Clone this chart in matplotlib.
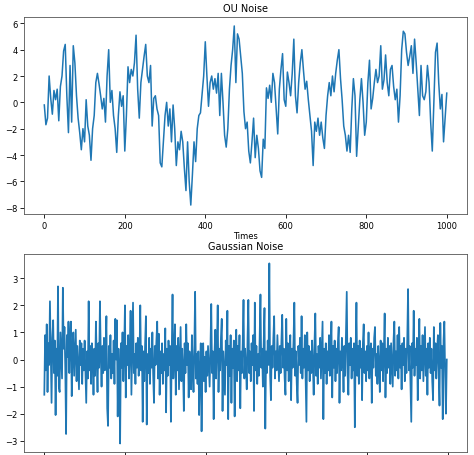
import numpy as np
import matplotlib
matplotlib.use('Agg')
import matplotlib.pyplot as plt

# ── OU noise, read every 4 steps ──
ou_step = 4
ou_values = [
    -0.2, -1.7, -1.2, 2.0, 0.3, -0.9, 0.9, 0.2, 1.0, -1.4, 1.2, 2.0, 3.9, 4.4, 0.5, -2.3,
    2.8, -1.5, 4.3, 3.0, 0.5, -1.2, -2.3, -3.6, -2.0, -3.0, 0.2, -1.8, -2.5, -4.4, -2.0, -1.0,
    1.5, 2.2, 1.4, 0.5, -0.5, 0.3, -1.5, 2.0, 4.0, 0.0, 0.9, -1.0, -2.0, -3.8, -1.0, 0.8,
    -0.3, 0.5, -3.7, -1.0, 2.7, 1.5, 2.5, 2.0, 3.0, 5.1, 1.0, -1.2, 1.5, 2.5, 3.5, 4.4,
    2.0, 1.5, 2.8, -1.8, 0.3, 0.5, -0.5, -1.0, -4.6, -4.9, -3.0, -1.0, 0.0, -1.8, -0.5, -3.0,
    -0.2, -2.0, -4.8, -3.0, -3.6, -2.2, -3.0, -5.0, -6.7, -3.0, -6.0, -7.8, -5.5, -3.0, -4.5, -2.0,
    -1.0, -0.8, 0.6, 2.0, 4.6, 2.0, -0.3, 1.5, 2.0, 1.0, 1.8, 0.7, 2.2, -1.0, 2.2, 0.0,
    -2.5, -3.4, -2.0, 1.0, 2.8, 4.0, 5.8, 1.5, 5.2, 4.8, 3.5, 2.2, -0.7, -2.0, -1.5, -3.7,
    -4.6, -3.0, -1.2, -4.2, -2.5, -3.5, -5.2, -5.7, -2.8, -3.5, 1.1, 0.3, 1.3, 0.0, 2.2, 1.5,
    -0.5, -2.4, 1.0, 2.5, 3.7, 0.2, -0.3, 2.3, 1.5, 0.5, 2.2, 4.8, 0.5, -0.8, 1.5, 3.0,
    4.0, 2.4, 1.0, 1.6, 0.2, -1.0, -2.2, -4.8, -1.5, -2.2, -1.2, -2.5, -1.5, -2.7, -3.5, -1.0,
    0.5, 1.5, 0.5, 2.0, 0.8, 2.2, 3.2, 4.0, 1.8, 0.2, -1.8, -2.5, -3.7, -2.5, -3.8, -0.5,
    1.8, 0.5, -4.1, -2.0, 0.2, 1.8, 0.0, -2.5, -1.5, 1.5, 3.2, -0.5, 0.3, 1.5, 2.5, 1.5,
    2.0, 4.3, 1.0, 1.7, 3.6, 1.5, 0.5, 2.5, 2.8, 1.2, 0.2, 1.0, -1.5, 0.5, 4.0, 5.4,
    5.2, 3.8, 2.8, 3.5, 4.3, 2.2, 4.8, 3.0, 1.0, -1.0, 2.8, 0.5, 0.2, 0.8, 2.8, 1.5,
    -1.5, -3.7, 0.0, 3.8, 4.5, 1.5, -0.5, 0.6, -3.0, -1.2, 0.7,
]

# ── Gaussian noise, read every 2 steps ──
gauss_step = 2
gauss_values = [
    -1.3, 0.9, -0.4, 1.3, -1.2, 0.6, -0.2, 2.15, 0.3, -1.6, 0.8, 1.45, -0.5, 0.7, -2.05, 0.4, -0.6, 2.7, -1.0, -1.2, 1.0, 0.2, -0.7, 2.65, 0.4,
    1.2, -0.3, -2.75, 0.9, 0.1, 1.4, -0.5, 0.8, 1.4, -1.35, 0.3, 1.0, -0.6, 0.2, 1.1, -0.8, 0.5, -0.3, -1.1, 0.7, -0.2, 0.6, -0.9, 0.4, -0.4,
    0.7, -0.5, -1.6, 0.3, -0.7, 2.15, -0.4, 0.5, -0.9, 0.6, 0.1, -1.3, 0.4, -0.6, 1.4, 0.0, -1.2, 0.6, -0.3, 2.15, 0.2, -1.0, 0.5, -0.5, 0.8,
    -0.4, 0.3, 1.6, -1.8, -2.45, 0.5, -0.3, 0.9, -0.7, 0.2, -0.5, 0.7, -0.9, 1.5, 0.0, 1.45, -2.1, 0.4, -0.6, -3.1, 0.6, -0.3, 1.0, -0.8, 0.3,
    2.0, -1.4, 0.5, -0.2, 0.9, -0.7, 0.3, 1.8, -1.3, 0.4, 2.1, -0.5, 0.2, -0.9, 0.6, -0.3, 0.8, -0.6, 0.1, 2.0, -0.4, 0.5, -2.3, 0.3, -0.8,
    0.6, 1.6, -2.4, 0.2, -0.5, 0.8, -0.9, 0.4, -0.3, 1.0, -0.6, -1.6, 0.5, -0.2, 0.7, 1.4, -0.7, 0.95, -1.3, 0.3, -0.5, 0.6, -0.9, 0.2, -0.4,
    1.15, -1.95, 0.4, -0.6, 0.7, -0.2, 0.5, -2.3, 0.3, 2.4, -0.7, 0.2, 1.3, -1.3, 0.5, -0.4, 0.8, -1.1, 0.1, 1.2, -0.8, 0.4, -0.3, -1.9, 0.6,
    -0.5, 1.3, -0.2, 0.6, -1.4, 0.3, -0.6, -1.1, 0.9, -0.3, -1.2, 0.4, 2.5, -0.7, 0.2, -0.9, 0.3, -2.05, -0.4, 0.6, -2.65, -0.2, 0.6, -0.8, 0.1,
    -1.2, 0.3, -0.6, 0.5, -0.3, -1.0, 0.4, 2.05, -0.5, 0.3, -2.2, 0.2, 1.1, -0.7, 0.5, 2.0, -1.2, 0.4, -0.4, 0.8, 1.5, -1.9, 0.3, -0.5, -1.3,
    0.7, -0.2, 1.8, -2.2, 0.5, -0.6, 0.9, -1.6, 0.4, -0.3, 0.7, -2.1, 0.2, 1.1, -0.8, 0.5, -0.4, 0.9, -1.8, 0.3, -0.5, 0.6, 2.2, -0.7, 0.4,
    -0.3, -1.1, 0.8, 2.2, -0.5, 0.3, -0.8, 0.6, -0.2, 0.9, -1.9, 2.1, -0.4, 0.5, -0.9, 0.2, -0.6, 0.8, 2.4, -0.3, 0.4, -1.0, 0.6, 1.9, -2.55,
    0.3, -0.5, 0.7, -0.2, 3.55, -0.6, -1.5, 0.5, -0.3, 0.8, 1.6, -0.7, 0.3, -0.4, 0.9, 0.1, -0.8, 0.5, -0.5, 0.7, 1.65, -0.3, 0.4, -0.7, -1.3,
    1.5, -0.4, 0.6, -0.8, 0.2, 0.9, -1.5, 0.4, -0.3, 0.7, 2.1, -0.6, 0.3, -0.9, -1.6, 0.5, -0.2, 0.8, -0.5, 1.6, -0.7, 0.4, -0.3, 0.9, -0.6,
    -2.3, 1.0, -0.4, 0.5, -0.8, 0.3, -0.5, 0.7, -0.2, -1.3, 0.6, 1.7, -0.6, 0.2, -0.9, 0.5, -0.3, 0.8, -0.7, 0.3, 1.4, -2.2, 0.4, -0.5, 0.6,
    -0.9, 0.3, -0.4, 0.9, -0.6, 0.2, 1.4, -1.4, 0.5, -0.3, 0.7, -0.8, 0.4, -0.5, 0.6, 1.2, -1.6, 0.3, -0.4, 0.8, 0.0, -1.2, 0.5, -0.6, 0.9,
    2.5, -0.5, -1.3, 0.6, -0.2, 0.8, -0.7, 0.4, -0.4, 0.6, -2.5, 0.3, 2.1, -0.6, 0.5, -0.9, 0.7, -0.3, 0.4, -1.5, 0.6, 1.3, -0.5, 0.3, -0.8,
    0.5, -0.4, 1.0, -0.7, 0.3, 0.6, -1.6, 0.4, -0.3, 0.8, 1.2, -0.6, 0.2, -0.9, 0.5, -0.2, -1.2, 0.7, -0.4, 0.6, -0.8, 0.3, 1.7, -1.4, 0.4,
    -0.5, 0.8, -0.3, 0.5, -0.9, 0.6, -0.2, -1.0, 0.7, 1.4, -0.6, 0.3, -0.4, 0.9, -0.7, 1.2, -0.3, 0.5, -1.1, 0.6, -0.2, 0.8, -0.8, 0.4, -0.5,
    0.7, 2.6, -0.4, 0.5, -0.9, -2.3, 0.6, -0.3, 1.8, -0.6, 0.4, -0.2, 0.8, -1.5, 0.3, 1.5, -0.7, 0.5, -0.4, 0.9, -0.8, 0.2, 1.2, -0.6, 0.4,
    -1.3, 0.6, -0.3, 0.8, -0.5, 0.4, -0.8, -1.5, 1.2, -0.4, 0.6, -0.7, 0.3, 0.9, -0.5, -1.7, 1.35, -0.3, 0.5, -2.2, 0.7, 1.4, -0.6, -2.0, 0.0,
]

LINE_COLOR = '#1f77b4'
plt.rcParams['font.size'] = 6

fig = plt.figure(figsize=(4.74, 4.56), dpi=100)

# верхний график
ax1 = fig.add_axes([0.051, 0.5285, 0.934, 0.432])
t_ou = np.arange(len(ou_values)) * ou_step
ax1.plot(t_ou, ou_values, color=LINE_COLOR, linewidth=1.1)
ax1.set_title('OU Noise', fontsize=7, pad=4)
ax1.set_xlabel('Times', fontsize=6, labelpad=1)

# нижний график (подписи оси x обрезаны краем картинки)
ax2 = fig.add_axes([0.051, 0.0055, 0.934, 0.4345])
t_g = np.arange(len(gauss_values)) * gauss_step
ax2.plot(t_g, gauss_values, color=LINE_COLOR, linewidth=1.25)
ax2.set_title('Gaussian Noise', fontsize=7, pad=4)

for ax in (ax1, ax2):
    ax.set_xticks([0, 200, 400, 600, 800, 1000])
    ax.tick_params(length=2.8, width=0.6, pad=2, labelsize=6)
    for s in ax.spines.values():
        s.set_linewidth(0.6)
        s.set_color('#555555')

ax1.set_yticks([-8, -6, -4, -2, 0, 2, 4, 6])
ax2.set_yticks([-3, -2, -1, 0, 1, 2, 3])
ax2.tick_params(axis='x', labelbottom=False)

fig.savefig('out.png', dpi=100)
